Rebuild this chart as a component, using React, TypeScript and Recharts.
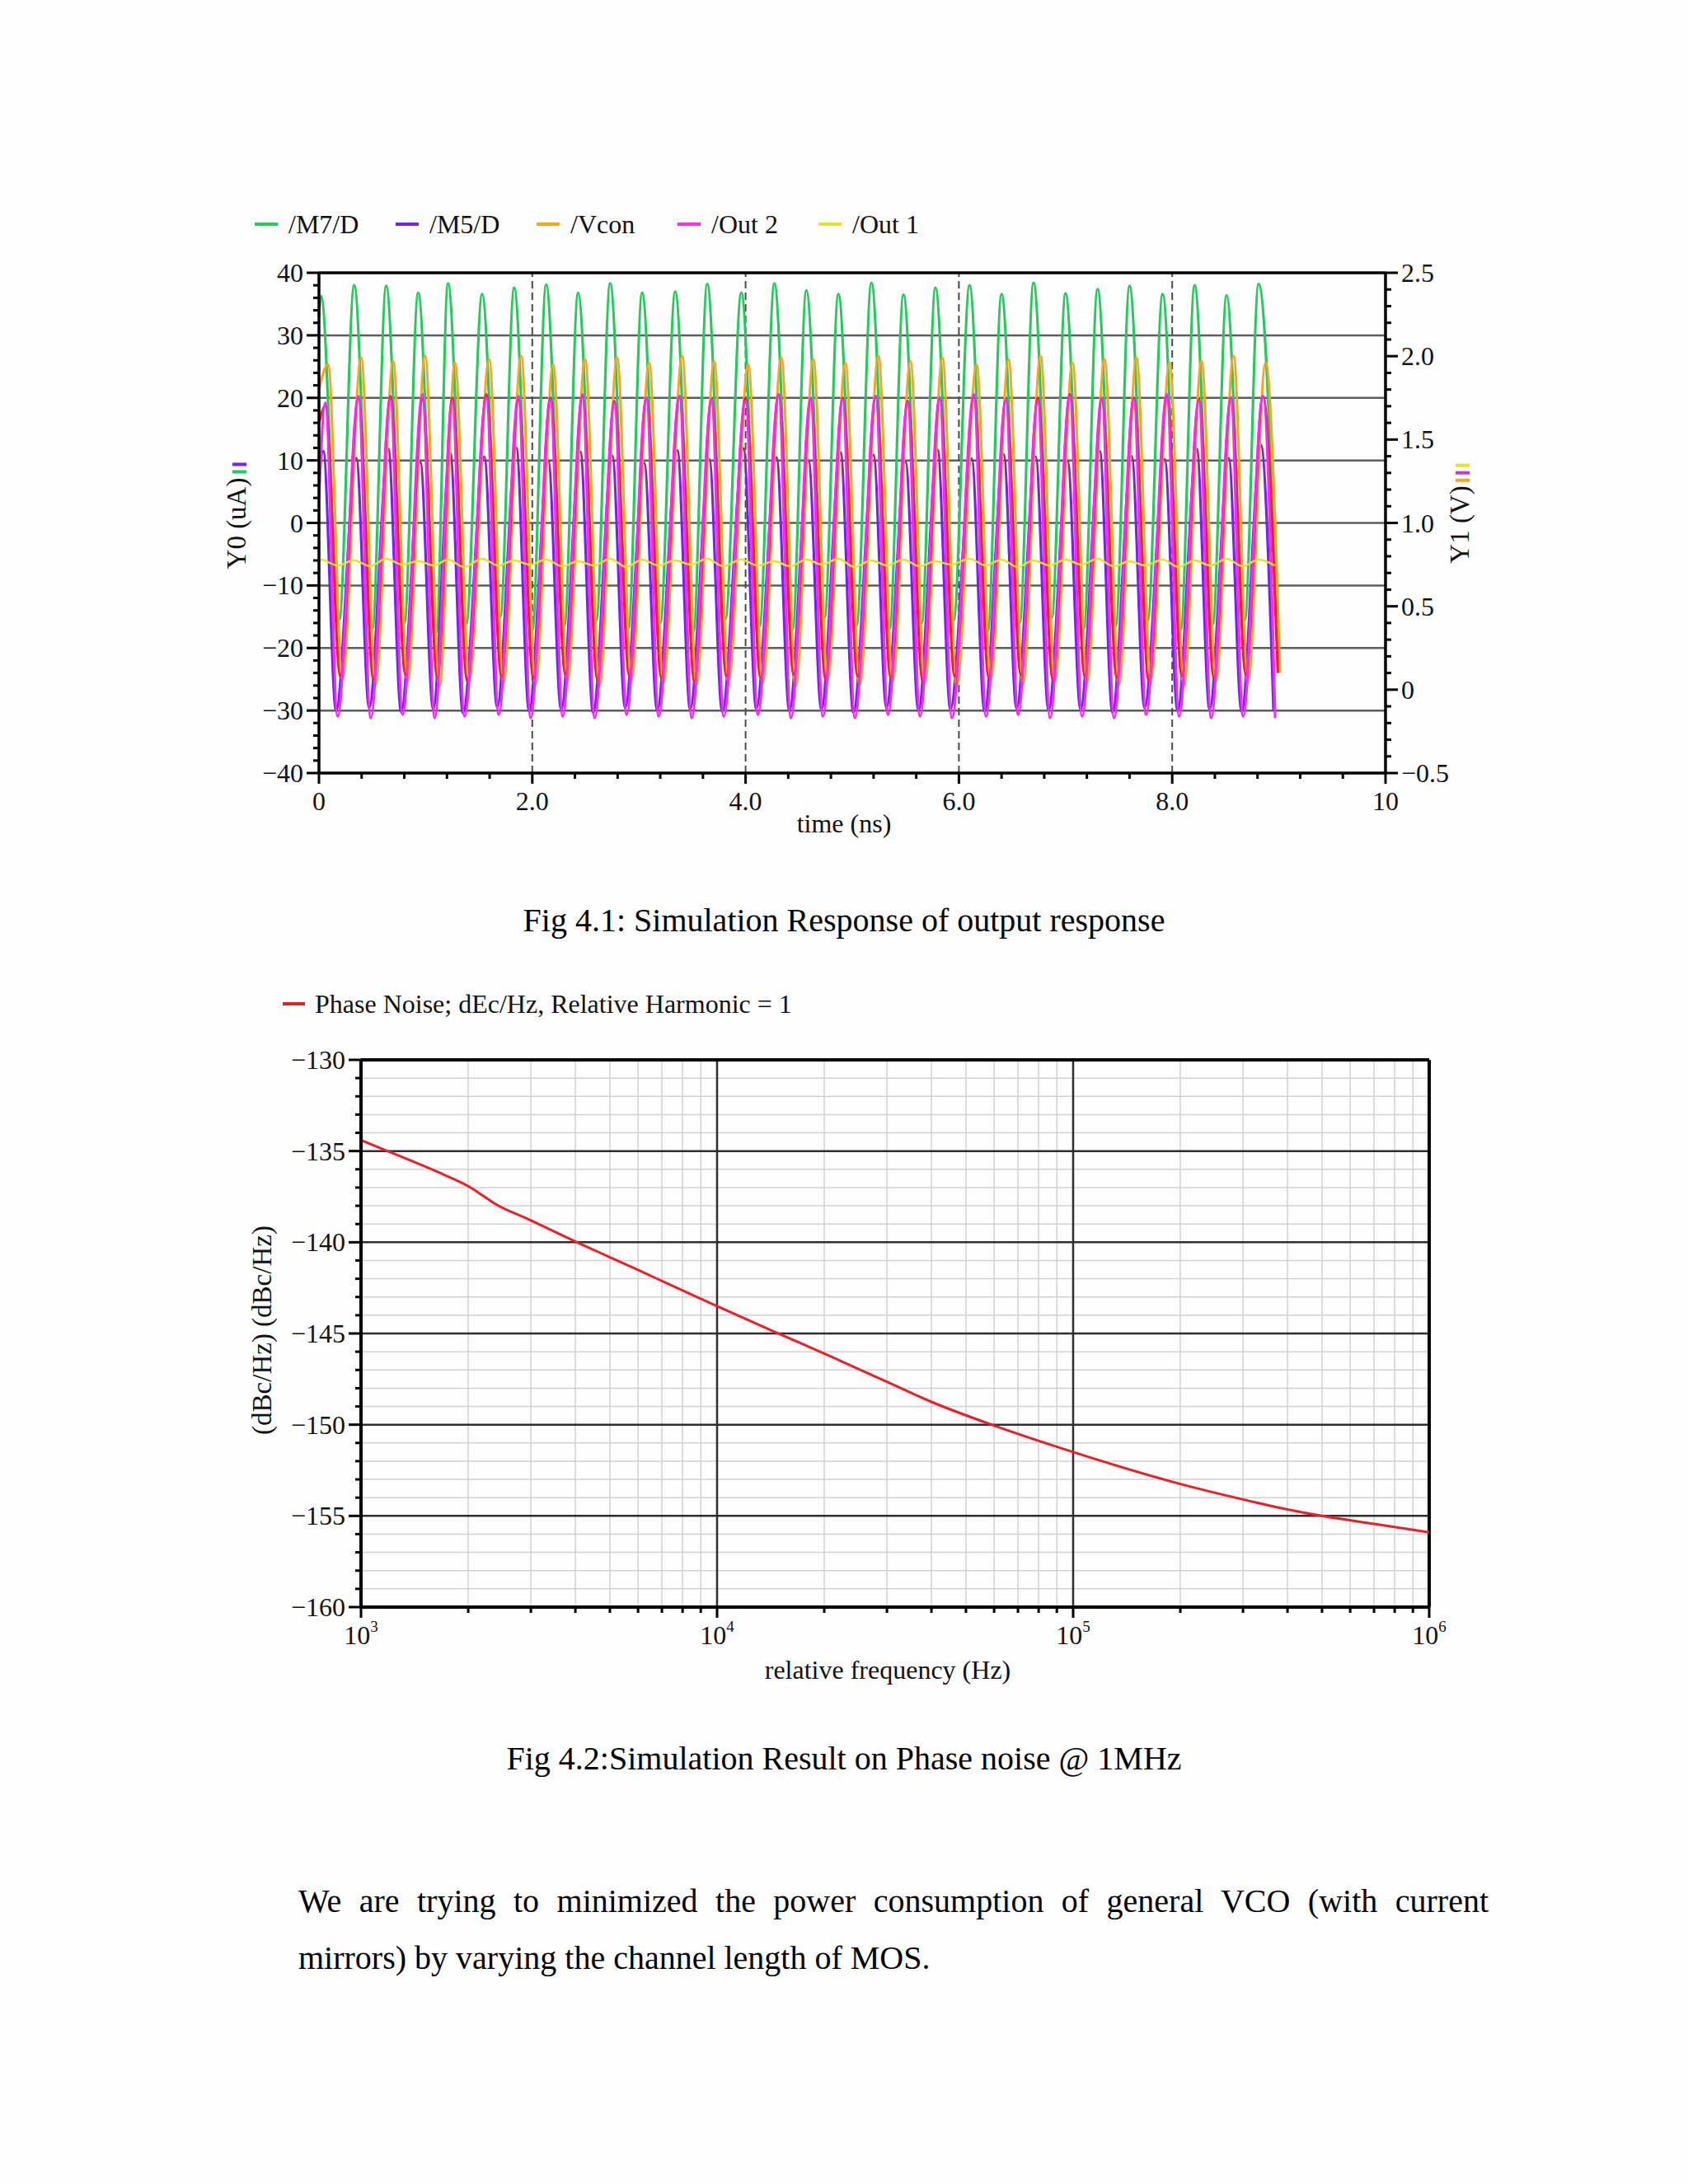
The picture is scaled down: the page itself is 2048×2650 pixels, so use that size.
import React from 'react';
import { LineChart, Line, XAxis, YAxis, ReferenceLine } from 'recharts';

const FONT = '"Liberation Serif", "Times New Roman", serif';

// ---------- Fig 4.1 : transient response ----------
// instants of the /M7/D current peaks (ns), one per oscillation cycle
const cycleTimes = [0.02, 0.33, 0.63, 0.93, 1.21, 1.53, 1.83, 2.13, 2.43, 2.73, 3.03, 3.34, 3.64, 3.96, 4.27, 4.57, 4.87, 5.18, 5.48, 5.78, 6.1, 6.4, 6.7, 7.0, 7.3, 7.6, 7.91, 8.21, 8.51, 8.81];

// /M7/D (uA)
const m7Peaks = [36.3, 38.0, 37.9, 36.8, 38.3, 36.6, 37.6, 38.1, 36.8, 38.3, 36.8, 37.0, 38.2, 36.8, 38.3, 37.2, 36.6, 38.4, 36.5, 37.6, 38.0, 36.6, 38.4, 36.7, 37.4, 37.9, 36.6, 38.0, 36.4, 38.2];
const m7Troughs = [-15.5, -17.0, -16.0, -17.5, -16.2, -15.0, -17.2, -16.5, -15.6, -17.0, -16.0, -17.4, -15.4, -16.6, -17.1, -15.2, -16.4, -17.0, -16.1, -15.6, -17.4, -16.0, -15.2, -17.0, -16.5, -15.6, -17.1, -16.2, -15.5, -14.0];
// /M5/D (uA)
const m5Peaks = [11.5, 10.4, 11.8, 9.8, 11.2, 10.6, 12.0, 10.0, 11.4, 10.8, 9.6, 11.6, 10.2, 11.9, 10.5, 10.0, 11.3, 10.9, 9.8, 11.7, 10.3, 11.0, 10.6, 9.9, 11.5, 10.7, 10.2, 11.8, 10.4, 12.5];
const m5Troughs = [-30.0, -29.6, -30.2, -29.8, -30.4, -29.5, -30.1, -29.9, -30.3, -29.6, -30.0, -29.8, -30.2, -29.7, -30.1, -29.9, -30.3, -29.6, -30.0, -29.8, -30.2, -29.7, -30.0, -29.9, -30.3, -29.6, -30.1, -29.8, -30.2, -30.0];
// /Vcon (V)
const vconPeaks = [1.95, 1.99, 1.97, 2.0, 1.96, 1.98, 2.0, 1.95, 1.98, 1.99, 1.96, 2.0, 1.97, 1.95, 1.99, 1.98, 1.96, 2.0, 1.97, 1.99, 1.95, 1.98, 2.0, 1.96, 1.98, 1.99, 1.96, 1.97, 2.0, 1.96];
const vconTroughs = [0.06, 0.03, 0.05, 0.02, 0.06, 0.04, 0.03, 0.05, 0.02, 0.06, 0.04, 0.03, 0.05, 0.04, 0.02, 0.06, 0.03, 0.05, 0.04, 0.02, 0.06, 0.03, 0.05, 0.04, 0.03, 0.06, 0.02, 0.05, 0.04, 0.1];
// /Out 2 (V)
const out2Peaks = [1.72, 1.76, 1.74, 1.77, 1.73, 1.75, 1.76, 1.74, 1.77, 1.72, 1.75, 1.76, 1.74, 1.73, 1.77, 1.75, 1.74, 1.76, 1.72, 1.75, 1.77, 1.74, 1.73, 1.76, 1.75, 1.74, 1.77, 1.73, 1.75, 1.76];
const out2Troughs = [-0.16, -0.17, -0.15, -0.17, -0.16, -0.15, -0.17, -0.16, -0.17, -0.15, -0.16, -0.17, -0.16, -0.15, -0.17, -0.16, -0.17, -0.15, -0.16, -0.17, -0.16, -0.15, -0.17, -0.16, -0.17, -0.15, -0.16, -0.17, -0.16, -0.17];
// /Out 1 (V)
const out1Peaks = [0.78, 0.775, 0.785, 0.77, 0.78, 0.785, 0.775, 0.78, 0.77, 0.785, 0.78, 0.775, 0.785, 0.78, 0.77, 0.78, 0.785, 0.775, 0.78, 0.77, 0.785, 0.78, 0.775, 0.78, 0.785, 0.77, 0.78, 0.775, 0.785, 0.78];
const out1Troughs = [0.745, 0.74, 0.75, 0.745, 0.735, 0.745, 0.75, 0.74, 0.745, 0.735, 0.745, 0.75, 0.74, 0.745, 0.74, 0.75, 0.735, 0.745, 0.74, 0.75, 0.745, 0.735, 0.745, 0.75, 0.74, 0.745, 0.735, 0.745, 0.74, 0.745];
// unlabelled red trace (V)
const redPeaks = [1.7, 1.75, 1.76, 1.74, 1.75, 1.77, 1.74, 1.75, 1.76, 1.73, 1.75, 1.76, 1.74, 1.75, 1.77, 1.74, 1.75, 1.76, 1.73, 1.75, 1.76, 1.74, 1.75, 1.77, 1.74, 1.75, 1.76, 1.74, 1.75, 1.76];
const redTroughs = [0.08, 0.06, 0.09, 0.07, 0.05, 0.08, 0.07, 0.09, 0.06, 0.08, 0.07, 0.05, 0.08, 0.07, 0.09, 0.06, 0.08, 0.07, 0.05, 0.08, 0.07, 0.09, 0.06, 0.08, 0.07, 0.05, 0.08, 0.07, 0.09, 0.1];

const tMajor = [0, 2, 4, 6, 8, 10];
const tLabels = ['0', '2.0', '4.0', '6.0', '8.0', '10'];
const tMinor = [0.4, 0.8, 1.2, 1.6, 2.4, 2.8, 3.2, 3.6, 4.4, 4.8, 5.2, 5.6, 6.4, 6.8, 7.2, 7.6, 8.4, 8.8, 9.2, 9.6];
const uMajor = [-40, -30, -20, -10, 0, 10, 20, 30, 40];
const uLabels = ['\u221240', '\u221230', '\u221220', '\u221210', '0', '10', '20', '30', '40'];
const uMinor = [-38, -36, -34, -32, -28, -26, -24, -22, -18, -16, -14, -12, -8, -6, -4, -2, 2, 4, 6, 8, 12, 14, 16, 18, 22, 24, 26, 28, 32, 34, 36, 38];
const vMajor = [-0.5, 0, 0.5, 1, 1.5, 2, 2.5];
const vLabels = ['\u22120.5', '0', '0.5', '1.0', '1.5', '2.0', '2.5'];
const vMinor = [-0.4, -0.3, -0.2, -0.1, 0.1, 0.2, 0.3, 0.4, 0.6, 0.7, 0.8, 0.9, 1.1, 1.2, 1.3, 1.4, 1.6, 1.7, 1.8, 1.9, 2.1, 2.2, 2.3, 2.4];
const tGrid = [2, 4, 6, 8];
const uGrid = [-30, -20, -10, 0, 10, 20, 30];

// ---------- Fig 4.2 : phase noise ----------
const freqHz = [1000, 1170, 1410, 1710, 2050, 2220, 2360, 2960, 4040, 4660, 6050, 7510, 10000, 14650, 20000, 30000, 40000, 61000, 100000, 200000, 300000, 400000, 500000, 706000, 1000000];
const phaseNoise = [-134.4, -134.95, -135.6, -136.3, -137.05, -137.5, -137.85, -138.75, -140.0, -140.55, -141.55, -142.4, -143.5, -144.95, -146.1, -147.65, -148.75, -150.1, -151.5, -153.25, -154.1, -154.65, -155.0, -155.45, -155.9];

const fMajor = [1000, 10000, 100000, 1000000];
const fExp = ['3', '4', '5', '6'];
const fMinor = [2000, 3000, 4000, 5000, 6000, 7000, 8000, 9000, 20000, 30000, 40000, 50000, 60000, 70000, 80000, 90000, 200000, 300000, 400000, 500000, 600000, 700000, 800000, 900000];
const pnMajor = [-160, -155, -150, -145, -140, -135, -130];
const pnLabels = ['\u2212160', '\u2212155', '\u2212150', '\u2212145', '\u2212140', '\u2212135', '\u2212130'];
const pnMinor = [-159, -158, -157, -156, -154, -153, -152, -151, -149, -148, -147, -146, -144, -143, -142, -141, -139, -138, -137, -136, -134, -133, -132, -131];

type Trace = {
  key: string; name: string; color: string; axis: 'u' | 'v'; legend: boolean;
  start: number; peakLag: number; troughLag: number; peaks: number[]; troughs: number[];
};

const traces: Trace[] = [
  { key: 'm7', name: '/M7/D', color: '#27c95e', axis: 'u', legend: true, start: 33, peakLag: 0, troughLag: 0.17, peaks: m7Peaks, troughs: m7Troughs },
  { key: 'm5', name: '/M5/D', color: '#7a22e2', axis: 'u', legend: true, start: 8, peakLag: 0.02, troughLag: 0.14, peaks: m5Peaks, troughs: m5Troughs },
  { key: 'vcon', name: '/Vcon', color: '#f4a623', axis: 'v', legend: true, start: 1.8, peakLag: 0.065, troughLag: 0.2, peaks: vconPeaks, troughs: vconTroughs },
  { key: 'red', name: '', color: '#f01c3c', axis: 'v', legend: false, start: 1.6, peakLag: 0.04, troughLag: 0.18, peaks: redPeaks, troughs: redTroughs },
  { key: 'out2', name: '/Out 2', color: '#f02ef0', axis: 'v', legend: true, start: 1.15, peakLag: 0.04, troughLag: 0.155, peaks: out2Peaks, troughs: out2Troughs },
  { key: 'out1', name: '/Out 1', color: '#e6e030', axis: 'v', legend: true, start: 0.76, peakLag: 0, troughLag: 0.15, peaks: out1Peaks, troughs: out1Troughs },
];

const legendOrder = ['m7', 'm5', 'vcon', 'out2', 'out1'];

function traceData(tr: Trace) {
  const pts = [{ t: 0, y: tr.start }];
  cycleTimes.forEach((c, i) => {
    pts.push({ t: +(c + tr.peakLag).toFixed(3), y: tr.peaks[i] });
    pts.push({ t: +(c + tr.troughLag).toFixed(3), y: tr.troughs[i] });
  });
  return pts;
}

const pnData = freqHz.map((f, i) => ({ f, pn: phaseNoise[i] }));

const sorted = (a: number[], b: number[]) => [...a, ...b].sort((x, y) => x - y);

// tick renderers: major ticks carry a label, minor ones are short marks
function makeXTick(major: number[], labels: React.ReactNode[]) {
  return (p: any) => {
    const i = major.indexOf(p.payload.value);
    return (
      <g>
        <line x1={p.x} y1={p.y} x2={p.x} y2={p.y + (i >= 0 ? 13 : 7)} stroke="#000" strokeWidth={3} />
        {i >= 0 && (
          <text x={p.x} y={p.y + 34} textAnchor="middle" dominantBaseline="central" fontFamily={FONT} fontSize={32} fill="#111">
            {labels[i]}
          </text>
        )}
      </g>
    );
  };
}

function makeYTick(major: number[], labels: string[], side: 'left' | 'right') {
  const s = side === 'left' ? -1 : 1;
  return (p: any) => {
    const i = major.indexOf(p.payload.value);
    return (
      <g>
        <line x1={p.x} y1={p.y} x2={p.x + s * (i >= 0 ? 15 : 7)} y2={p.y} stroke="#000" strokeWidth={3} />
        {i >= 0 && (
          <text x={p.x + s * 19} y={p.y} textAnchor={side === 'left' ? 'end' : 'start'} dominantBaseline="central" fontFamily={FONT} fontSize={32} fill="#111">
            {labels[i]}
          </text>
        )}
      </g>
    );
  };
}

const fLabels = fExp.map((e) => (
  <>
    <tspan>10</tspan>
    <tspan dy={-11} fontSize={19}>{e}</tspan>
  </>
));

function RotLabel({ cx, cy, text, colors }: { cx: number; cy: number; text: string; colors: string[] }) {
  return (
    <div style={{ position: 'absolute', left: cx, top: cy, transform: 'translate(-50%, -50%) rotate(-90deg)', whiteSpace: 'nowrap', fontFamily: FONT, fontSize: 33, color: '#111', lineHeight: '36px' }}>
      {text}
      {colors.map((c) => (
        <span key={c} style={{ display: 'inline-block', width: 4, height: 17, background: c, marginLeft: 5, verticalAlign: 'middle' }} />
      ))}
    </div>
  );
}

export default function App() {
  const legendTraces = legendOrder.map((k) => traces.find((t) => t.key === k)!);
  return (
    <div style={{ position: 'absolute', left: 0, top: 0, width: 2048, height: 2650, background: '#fefefe', fontFamily: FONT, overflow: 'hidden' }}>
      {/* ---- Fig 4.1 legend ---- */}
      {legendTraces.map((tr, i) => (
        <div key={tr.key} style={{ position: 'absolute', left: 309 + i * 171, top: 252, height: 40, display: 'flex', alignItems: 'center', whiteSpace: 'nowrap' }}>
          <span style={{ display: 'inline-block', width: 28, height: 4, background: tr.color, marginRight: 13 }} />
          <span style={{ fontSize: 32, color: '#111' }}>{tr.name}</span>
        </div>
      ))}

      <RotLabel cx={287} cy={626} text="Y0 (uA)" colors={['#27c95e', '#7a22e2']} />
      <RotLabel cx={1771} cy={623} text="Y1 (V)" colors={['#f4a623', '#c03ae0', '#e6e030']} />

      <div style={{ position: 'absolute', left: 250, top: 240 }}>
        <LineChart width={1550} height={800} margin={{ top: 91, right: 19, bottom: 32, left: 37 }}>
          <XAxis xAxisId="t" dataKey="t" type="number" domain={[0, 10]} ticks={sorted(tMajor, tMinor)} interval={0}
            tickSize={0} tickMargin={0} height={70} axisLine={{ stroke: '#000', strokeWidth: 3.5 }} tick={makeXTick(tMajor, tLabels)} />
          <YAxis yAxisId="u" orientation="left" type="number" domain={[-40, 40]} ticks={sorted(uMajor, uMinor)} interval={0}
            tickSize={0} tickMargin={0} width={100} axisLine={{ stroke: '#000', strokeWidth: 3.5 }} tick={makeYTick(uMajor, uLabels, 'left')} />
          <YAxis yAxisId="v" orientation="right" type="number" domain={[-0.5, 2.5]} ticks={sorted(vMajor, vMinor)} interval={0}
            tickSize={0} tickMargin={0} width={100} axisLine={{ stroke: '#000', strokeWidth: 3.5 }} tick={makeYTick(vMajor, vLabels, 'right')} />

          {uGrid.map((u) => (
            <ReferenceLine key={'hu' + u} xAxisId="t" yAxisId="u" y={u} stroke="#5c5c5c" strokeWidth={2.5} />
          ))}
          {tGrid.map((t) => (
            <ReferenceLine key={'vt' + t} xAxisId="t" yAxisId="u" x={t} stroke="#4a4a4a" strokeWidth={2} strokeDasharray="9 5" />
          ))}
          <ReferenceLine xAxisId="t" yAxisId="u" y={40} stroke="#000" strokeWidth={3.5} />

          {traces.map((tr) => (
            <Line key={tr.key} xAxisId="t" yAxisId={tr.axis} data={traceData(tr)} dataKey="y" name={tr.name}
              type="monotone" stroke={tr.color} strokeWidth={tr.key === 'out1' ? 2.4 : 3.2} dot={false} isAnimationActive={false} />
          ))}
        </LineChart>
      </div>

      <div style={{ position: 'absolute', left: 0, top: 979, width: 2048, textAlign: 'center', fontSize: 32, color: '#111', lineHeight: '40px' }}>
        time (ns)
      </div>

      <div style={{ position: 'absolute', left: 0, top: 1082, width: 2048, textAlign: 'center', fontSize: 40, color: '#000', lineHeight: '70px' }}>
        Fig 4.1: Simulation Response of output response
      </div>

      {/* ---- Fig 4.2 ---- */}
      <div style={{ position: 'absolute', left: 343, top: 1198, height: 40, display: 'flex', alignItems: 'center', whiteSpace: 'nowrap' }}>
        <span style={{ display: 'inline-block', width: 27, height: 4, background: '#e8202a', marginRight: 12 }} />
        <span style={{ fontSize: 32, color: '#111' }}>Phase Noise; dEc/Hz, Relative Harmonic = 1</span>
      </div>

      <RotLabel cx={318} cy={1614} text="(dBc/Hz) (dBc/Hz)" colors={[]} />

      <div style={{ position: 'absolute', left: 300, top: 1180 }}>
        <LineChart width={1550} height={850} data={pnData} margin={{ top: 106, right: 116, bottom: 20, left: 38 }}>
          <XAxis dataKey="f" type="number" scale="log" domain={[1000, 1000000]} allowDataOverflow ticks={sorted(fMajor, fMinor)} interval={0}
            tickSize={0} tickMargin={0} height={60} axisLine={{ stroke: '#000', strokeWidth: 4 }} tick={makeXTick(fMajor, fLabels)} />
          <YAxis type="number" domain={[-160, -130]} ticks={sorted(pnMajor, pnMinor)} interval={0}
            tickSize={0} tickMargin={0} width={100} axisLine={{ stroke: '#000', strokeWidth: 4 }} tick={makeYTick(pnMajor, pnLabels, 'left')} />

          {pnMinor.map((v) => (
            <ReferenceLine key={'hm' + v} y={v} stroke="#d2d2d2" strokeWidth={1.5} />
          ))}
          {fMinor.map((f) => (
            <ReferenceLine key={'vm' + f} x={f} stroke="#d2d2d2" strokeWidth={1.5} />
          ))}
          {pnMajor.slice(1, -1).map((v) => (
            <ReferenceLine key={'hM' + v} y={v} stroke="#2e2e2e" strokeWidth={2.5} />
          ))}
          {fMajor.slice(1, -1).map((f) => (
            <ReferenceLine key={'vM' + f} x={f} stroke="#2e2e2e" strokeWidth={2.5} />
          ))}
          <ReferenceLine y={-130} stroke="#000" strokeWidth={4} />
          <ReferenceLine x={1000000} stroke="#000" strokeWidth={4} />

          <Line dataKey="pn" name="Phase Noise" type="monotone" stroke="#e8202a" strokeWidth={3} dot={false} isAnimationActive={false} />
        </LineChart>
      </div>

      <div style={{ position: 'absolute', left: 0, top: 2006, width: 2154, textAlign: 'center', fontSize: 32, color: '#111', lineHeight: '40px' }}>
        relative frequency (Hz)
      </div>

      <div style={{ position: 'absolute', left: 0, top: 2099, width: 2048, textAlign: 'center', fontSize: 40, color: '#000', lineHeight: '70px' }}>
        Fig 4.2:Simulation Result on Phase noise @ 1MHz
      </div>

      {/* ---- body text ---- */}
      <div style={{ position: 'absolute', left: 362, top: 2272, width: 1444, fontSize: 40, color: '#000', lineHeight: '69px', textAlign: 'justify', textAlignLast: 'justify' }}>
        We are trying to minimized the power consumption of general VCO (with current
      </div>
      <div style={{ position: 'absolute', left: 362, top: 2341, width: 1444, fontSize: 40, color: '#000', lineHeight: '69px' }}>
        mirrors) by varying the channel length of MOS.
      </div>
    </div>
  );
}
